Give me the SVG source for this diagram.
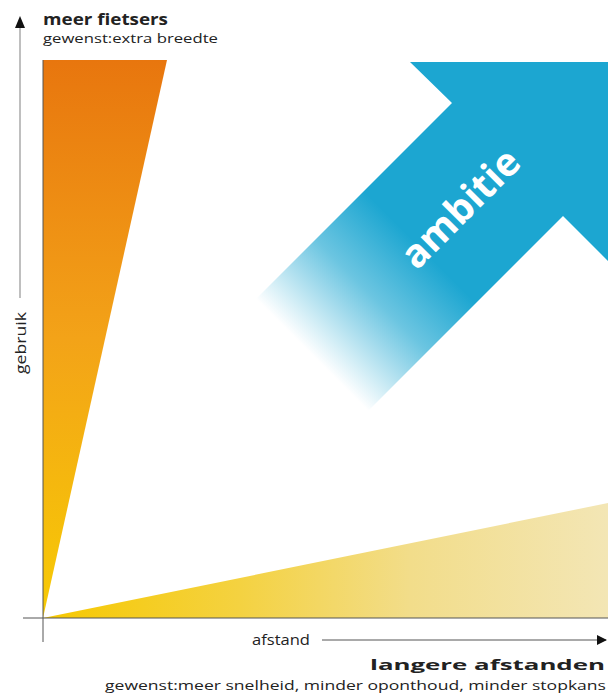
<svg xmlns="http://www.w3.org/2000/svg" width="608" height="700" viewBox="0 0 608 700">
<defs>
<linearGradient id="gOrange" gradientUnits="userSpaceOnUse" x1="0" y1="60" x2="0" y2="618">
<stop offset="0" stop-color="#e8760e"/>
<stop offset="0.5" stop-color="#f3a318"/>
<stop offset="1" stop-color="#f7cb05"/>
</linearGradient>
<linearGradient id="gYellow" gradientUnits="userSpaceOnUse" x1="43" y1="0" x2="608" y2="0">
<stop offset="0" stop-color="#f6c800"/>
<stop offset="0.35" stop-color="#f4d241"/>
<stop offset="0.65" stop-color="#f2dd8a"/>
<stop offset="1" stop-color="#f3e6b5"/>
</linearGradient>
<linearGradient id="gBlue" gradientUnits="userSpaceOnUse" x1="420" y1="247" x2="312" y2="355">
<stop offset="0" stop-color="#1ca6d1" stop-opacity="1"/>
<stop offset="0.45" stop-color="#1ca6d1" stop-opacity="0.65"/>
<stop offset="1" stop-color="#1ca6d1" stop-opacity="0"/>
</linearGradient>
<marker id="arr" viewBox="0 0 10 10" refX="9" refY="5" markerWidth="10" markerHeight="10" markerUnits="userSpaceOnUse" orient="auto">
<path d="M0,0 L10,5 L0,10 Z" fill="#111"/>
</marker>
</defs>
<style>
text{font-family:"Open Sans","Liberation Sans",sans-serif;fill:#222}
.b{font-weight:bold}
.axis{stroke:#555;stroke-width:1;fill:none}
.grey{stroke:#aaa;stroke-width:1.5;fill:none}
</style>
<rect width="608" height="700" fill="#fff"/>
<g id="orange-wedge"><polygon points="43,60 167,60 43,618" fill="url(#gOrange)"/></g>
<g id="yellow-wedge"><polygon points="43,618 608,503 608,618" fill="url(#gYellow)"/></g>
<g id="ambitie">
<polygon points="410,62 608,62 608,261 563,216 310,469 197,358 452,103" fill="url(#gBlue)"/>
<text x="460" y="222" class="b" font-size="39" fill="#fff" style="fill:#fff" text-anchor="middle" transform="rotate(-45 460 208)">ambitie</text>
</g>
<g id="connectors">
<line class="grey" x1="20" y1="298" x2="20" y2="26"/>
<path d="M15,28 L20,16 L25,28 Z" fill="#111"/>
<line class="axis" x1="43" y1="60" x2="43" y2="642"/>
<line class="axis" x1="23" y1="618" x2="608" y2="618"/>
<line x1="322" y1="640" x2="606" y2="640" stroke="#555" stroke-width="1" marker-end="url(#arr)"/>
</g>
<g id="labels">
<text x="43" y="25" class="b" font-size="15.5" textLength="125" lengthAdjust="spacingAndGlyphs">meer fietsers</text>
<text x="43" y="43" font-size="13.5" textLength="175" lengthAdjust="spacingAndGlyphs">gewenst:extra breedte</text>
<text x="0" y="0" font-size="14" text-anchor="middle" textLength="62" lengthAdjust="spacingAndGlyphs" transform="translate(26 343) rotate(-90)">gebruik</text>
<text x="252" y="645" font-size="14" textLength="58" lengthAdjust="spacingAndGlyphs">afstand</text>
<text x="605" y="670" class="b" font-size="15" text-anchor="end" textLength="235" lengthAdjust="spacingAndGlyphs">langere afstanden</text>
<text x="606" y="690" font-size="13.5" text-anchor="end" textLength="501" lengthAdjust="spacingAndGlyphs">gewenst:meer snelheid, minder oponthoud, minder stopkans</text>
</g>
</svg>
